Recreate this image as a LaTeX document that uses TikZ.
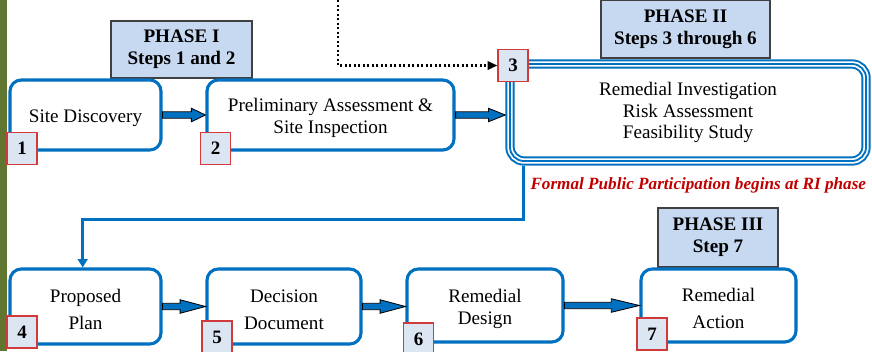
\documentclass[tikz,border=0pt]{standalone}
\usepackage{fontspec}
\setmainfont{Liberation Serif}
\usetikzlibrary{arrows.meta,calc}

\definecolor{stepblue}{HTML}{0070C0}
\definecolor{phasefill}{HTML}{C6D9F1}
\definecolor{numfill}{HTML}{DCE6F2}
\definecolor{numred}{HTML}{D03A3A}
\definecolor{notered}{HTML}{C00000}
\definecolor{bargreen}{HTML}{5F7530}

% pushes box text a little lower
\newcommand{\topgap}{\rule{0pt}{14pt}}

% thick blue block arrow between two boxes
\newcommand{\blockarrow}[3]{%
  \filldraw[fill=stepblue,draw=black,line width=0.6pt]
    let \p1=(#1.east), \p2=(#2.west) in
    (\x1,\y1+2.3pt) -- (\x2-#3,\y1+2.3pt) -- (\x2-#3,\y1+4.8pt) -- (\x2,\y1)
    -- (\x2-#3,\y1-4.8pt) -- (\x2-#3,\y1-2.3pt) -- (\x1,\y1-2.3pt) -- cycle;}

\begin{document}
\begin{tikzpicture}[x=0.025cm,y=-0.025cm,
  main node/.style={draw=stepblue,line width=2.2pt,rounded corners=8pt,fill=white,
    inner sep=0pt,align=center,font=\fontsize{13.6}{15.5}\selectfont},
  triple node/.style={draw=stepblue,line width=6.6pt,rounded corners=10pt,fill=white,
    inner sep=0pt,align=center,font=\fontsize{13.6}{15.5}\selectfont,
    postaction={draw=white,line width=3.8pt},
    postaction={draw=stepblue,line width=1.3pt}},
  phase node/.style={draw=black!75,line width=0.8pt,fill=phasefill,inner sep=0pt,
    align=center,font=\fontsize{13.6}{15.5}\selectfont\bfseries},
  num node/.style={draw=numred,line width=0.9pt,fill=numfill,inner sep=0pt,
    minimum width=0.75cm,minimum height=0.8cm,font=\fontsize{13.5}{15}\selectfont\bfseries}]

  \clip (0,0) rectangle (872,351);
  \fill[bargreen] (0,0) rectangle (7,351);

  % phase labels
  \node[phase node,minimum width=3.525cm,minimum height=1.425cm] (ph1) at (181.5,49.5) {PHASE I\\Steps 1 and 2};
  \node[phase node,minimum width=4.225cm,minimum height=1.45cm] (ph2) at (685.5,29) {PHASE II\\Steps 3 through 6};
  \node[phase node,minimum width=3cm,minimum height=1.475cm] (ph3) at (718,237.5) {PHASE III\\Step 7};

  % steps
  \node[main node,minimum width=3.775cm,minimum height=1.75cm] (s1) at (85.5,115) {\topgap Site Discovery};
  \node[main node,minimum width=6.175cm,minimum height=1.75cm] (s2) at (330.5,115) {\topgap Preliminary Assessment \&\\Site Inspection};
  \node[triple node,minimum width=8.9cm,minimum height=2.425cm] (s3) at (688,112.5) {Remedial Investigation\\Risk Assessment\\Feasibility Study};
  \node[main node,minimum width=3.775cm,minimum height=1.875cm] (s4) at (85.5,306.5) {\topgap Proposed\\[4pt]Plan};
  \node[main node,minimum width=3.85cm,minimum height=1.875cm] (s5) at (284,306.5) {\topgap Decision\\[4pt]Document};
  \node[main node,minimum width=3.9cm,minimum height=1.825cm] (s6) at (485,305.5) {\topgap Remedial\\Design};
  \node[main node,minimum width=3.875cm,minimum height=1.825cm] (s7) at (718.5,305.5) {\topgap Remedial\\[4pt]Action};

  % step numbers
  \node[num node] (n1) at (22,148.5) {1};
  \node[num node] (n2) at (215.5,148.5) {2};
  \node[num node] (n3) at (513,65.5) {3};
  \node[num node] (n4) at (22,332) {4};
  \node[num node] (n5) at (217,337) {5};
  \node[num node] (n6) at (418.5,339) {6};
  \node[num node] (n7) at (652,334) {7};

  \node[anchor=east,text=notered,font=\fontsize{12.2}{14}\selectfont\bfseries\itshape] (note) at (871,185)
    {Formal Public Participation begins at RI phase};

  % connectors
  \blockarrow{s1}{s2}{10pt}
  \blockarrow{s2}{s3}{12pt}
  \blockarrow{s4}{s5}{18pt}
  \blockarrow{s5}{s6}{18pt}
  \blockarrow{s6}{s7}{20pt}

  \coordinate (entry) at (338,0);
  \draw[line width=1.6pt,dash pattern=on 1.6pt off 1.6pt,-{Triangle[length=7pt,width=6pt]}] (entry) |- (n3.west);

  \draw[stepblue,line width=2.2pt,-{Triangle[length=6pt,width=7pt]}]
    ([xshift=0.45cm]s3.south west) -- ++(0,54) -| ([xshift=-0.07cm]s4.north);
\end{tikzpicture}
\end{document}
